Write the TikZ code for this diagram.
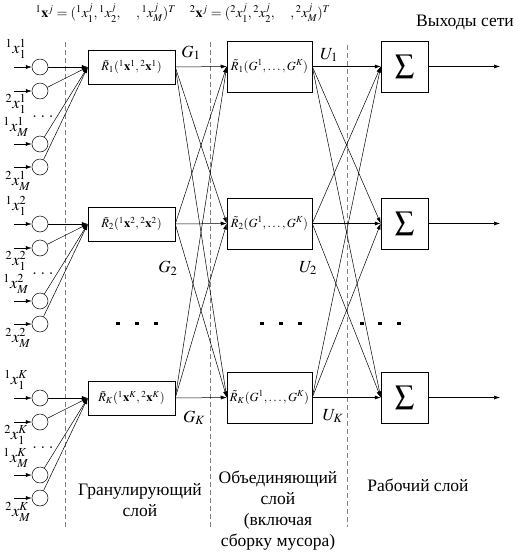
\documentclass[tikz,border=0pt]{standalone}
\usepackage{mathptmx}
\usepackage[no-math]{fontspec}
\setmainfont{Liberation Serif}
\tikzset{every picture/.style={line width=0.5pt}}
\usetikzlibrary{positioning, arrows.meta, calc}

\begin{document}
\begin{tikzpicture}[x=1pt, y=-1pt,
		% Input neuron
		neuron/.style={
			circle,
			draw,
			minimum size=16pt,
			inner sep=0pt
		},
		% Granule, union and sum blocks
		granbox/.style={
			draw,
			minimum width=87pt,
			minimum height=34pt,
			inner sep=2pt,
			font=\fontsize{12.5}{14}\selectfont
		},
		unionbox/.style={
			draw,
			minimum width=85pt,
			minimum height=51pt,
			inner sep=2pt,
			font=\fontsize{12.5}{14}\selectfont
		},
		sumbox/.style={
			draw,
			minimum width=47pt,
			minimum height=51pt,
			inner sep=0pt,
			font=\fontsize{19}{22}\selectfont
		},
		% Connector with arrow
		link/.style={
			-{Latex[length=6pt, width=4pt]}
		},
		% Layer separator
		layer sep/.style={
			dashed,
			gray,
			dash pattern=on 5pt off 3pt
		},
		headlabel/.style={font=\fontsize{14}{16}\selectfont, inner sep=0pt},
		inlabel/.style={font=\fontsize{16.5}{18}\selectfont, inner sep=0pt},
		siglabel/.style={font=\fontsize{17}{19}\selectfont, inner sep=0pt},
		layertext/.style={font=\fontsize{17.5}{21}\selectfont, align=center},
		bigdot/.style={fill, minimum size=3.5pt, inner sep=0pt}
		]
		
		\useasboundingbox (0,0) rectangle (518,552);
		
		% --- Header ---
		\node[headlabel] (head) at (183,13)
		{${}^1\mathbf{x}^j=({}^1x_1^j,{}^1x_2^j,\quad,{}^1x_M^j)^T\quad
			{}^2\mathbf{x}^j=({}^2x_1^j,{}^2x_2^j,\quad,{}^2x_M^j)^T$};
		\node[layertext] (outtitle) at (465,22) {Выходы сети};
		
		% --- Layer separators ---
		\draw[layer sep] (65,42) -- (65,528);
		\draw[layer sep] (210,42) -- (210,530);
		\draw[layer sep] (347,45) -- (347,527);
		
		% --- Blocks for each granule ---
		\foreach \r/\y/\s in {1/67/1, 2/224/2, 3/398/K} {
			\node[granbox] (g\r) at (131.5,\y)
			{$\tilde R_{\s}({}^1\mathbf{x}^{\s},{}^2\mathbf{x}^{\s})$};
			\node[unionbox] (u\r) at (269.5,\y-0.5)
			{$\tilde R_{\s}(G^1,\ldots,G^K)$};
			\node[sumbox] (s\r) at (404.5,\y-0.5) {$\displaystyle\sum$};
			\coordinate (out\r) at (500,\y-0.5);
			\draw[link] (s\r) -- (out\r);
			
			% input neurons
			\foreach \i/\dy in {a/0, b/24, c/77, d/100} {
				\node[neuron] (n\r\i) at (40,\y+\dy) {};
				\coordinate (in\r\i) at (14,\y+\dy);
				\draw[link] (in\r\i) -- (n\r\i);
				\draw[link] (n\r\i) -- (g\r.west);
			}
			
			% input labels
			\node[inlabel] (x\r a) at (16,\y-18) {${}^1x_1^{\s}$};
			\node[inlabel] (x\r b) at (16,\y+37) {${}^2x_1^{\s}$};
			\node[inlabel] (x\r dots) at (43,\y+50) {$.\;.\;.$};
			\node[inlabel] (x\r c) at (16,\y+60) {${}^1x_M^{\s}$};
			\node[inlabel] (x\r d) at (18,\y+114) {${}^2x_M^{\s}$};
		}
		
		% --- Full connections between layers ---
		\foreach \a in {1,2,3} {
			\foreach \b in {1,2,3} {
				\draw[link] (g\a.east) -- (u\b.west);
				\draw[link] (u\a.east) -- (s\b.west);
			}
		}
		
		% --- Signal labels ---
		\node[siglabel] (G1) at (191,53) {$G_1$};
		\node[siglabel] (G2) at (168,268) {$G_2$};
		\node[siglabel] (GK) at (194,418) {$G_K$};
		\node[siglabel] (U1) at (329,55) {$U_1$};
		\node[siglabel] (U2) at (308,268) {$U_2$};
		\node[siglabel] (UK) at (333,416) {$U_K$};
		
		% --- Omitted blocks ---
		\foreach \x in {118,137,156,262,281,300,362,380,399}
		\node[bigdot] at (\x,323.5) {};
		
		% --- Layer names ---
		\node[layertext] (granname) at (140,500) {Гранулирующий\\слой};
		\node[layertext] (unionname) at (278,511) {Объединяющий\\слой\\(включая\\сборку мусора)};
		\node[layertext] (workname) at (418,485) {Рабочий слой};
		
	\end{tikzpicture}
\end{document}
